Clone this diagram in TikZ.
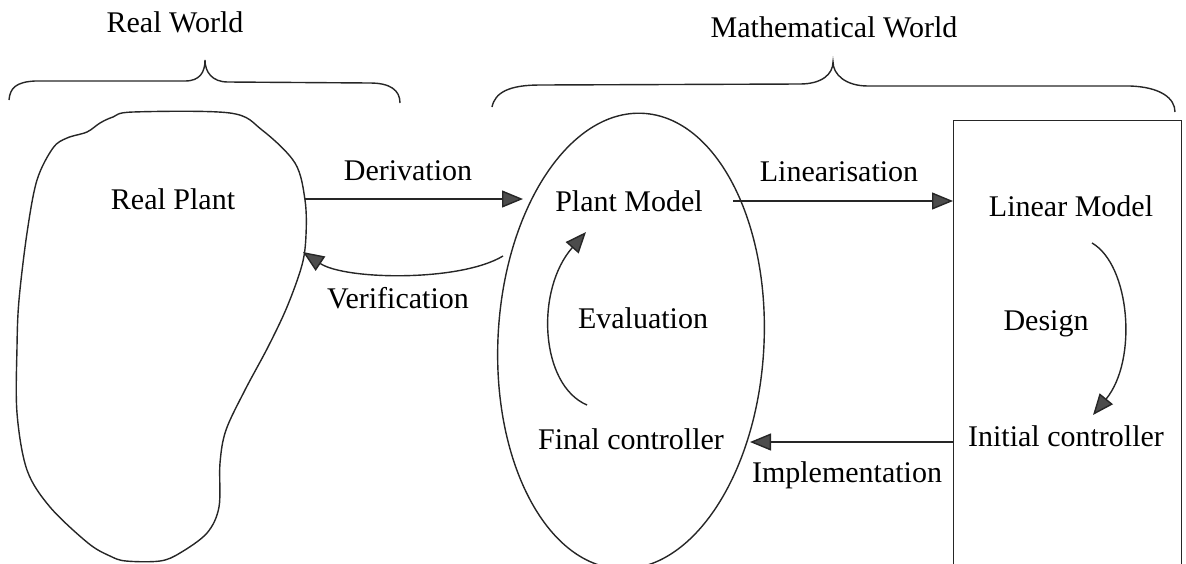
\documentclass[tikz,border=0pt]{standalone}
\usepackage{fontspec}
\setmainfont{Liberation Serif}
\usetikzlibrary{arrows.meta,shapes.geometric}

\tikzset{
	lbl/.style={inner sep=0pt, font=\fontsize{15}{18}\selectfont},
	outline/.style={line width=0.7pt, draw=black!85},
	flow/.style={outline, -{Triangle[length=10.5pt,width=8.5pt,fill=black!70]}},
}

\begin{document}
\begin{tikzpicture}[x=0.5pt,y=-0.5pt]
	\useasboundingbox (0,0) rectangle (1186,563);
	\clip (0,0) rectangle (1186,563);

	% the two worlds
	\node[lbl] (realworld) at (175,22)  {Real World};
	\node[lbl] (mathworld) at (834,27)  {Mathematical World};

	\draw[outline] (9,100) .. controls (10,88) and (16,82) .. (35,81) -- (185,81)
		.. controls (200,81) and (205,72) .. (205,60)
		.. controls (205,72) and (212,82) .. (228,82) -- (370,83)
		.. controls (390,83) and (400,90) .. (400,103);
	\draw[outline] (492,107) .. controls (495,92) and (510,85) .. (540,85) -- (800,84)
		.. controls (822,84) and (833,74) .. (833,62)
		.. controls (833,74) and (845,86) .. (868,86) -- (1130,86)
		.. controls (1160,87) and (1175,98) .. (1175,112);

	% shapes
	\draw[outline] plot[smooth cycle, tension=0.55] coordinates {
		(133,112) (230,113) (262,130) (295,163) (305,200) (306,235) (302,265)
		(287,307) (268,347) (245,390) (226,430) (220,463) (219,507) (207,533)
		(180,553) (160,561) (126,561) (110,556) (88,543) (50,507) (27,470)
		(17,413) (17,347) (19,300) (27,233) (37,180) (53,148) (67,138)
		(87,132) (100,123) (113,117)};
	\node[draw, outline, ellipse, inner sep=0pt, minimum width=133pt,
		minimum height=228pt, rotate=-3] (mathshape) at (631,341) {};
	\node[draw, outline, inner sep=0pt, minimum width=114pt,
		minimum height=240pt, anchor=north west] (designbox) at (953,120) {};

	% blocks
	\node[lbl] (realplant)   at (173,199)  {Real Plant};
	\node[lbl] (plantmodel)  at (629,201)  {Plant Model};
	\node[lbl] (evaluation)  at (643,318)  {Evaluation};
	\node[lbl] (finalctrl)   at (631,439)  {Final controller};
	\node[lbl] (linearmodel) at (1071,206) {Linear Model};
	\node[lbl] (design)      at (1046,324) {Design};
	\node[lbl] (initialctrl) at (1066,436) {Initial controller};

	% arrow ends on the outlines
	\coordinate (der-a) at (305,199);
	\coordinate (der-b) at (523,199);
	\coordinate (ver-a) at (503,256);
	\coordinate (ver-b) at (303,252);
	\coordinate (lin-a) at (733,201);
	\coordinate (lin-b) at (953,201);
	\coordinate (imp-a) at (953,442);
	\coordinate (imp-b) at (750,442);
	\coordinate (eva-a) at (587,405);
	\coordinate (eva-b) at (586,232);
	\coordinate (des-a) at (1092,243);
	\coordinate (des-b) at (1093,415);

	\draw[flow] (der-a) -- (der-b);
	\draw[flow] (ver-a) .. controls (460,282) and (345,280) .. (ver-b);
	\draw[flow] (lin-a) -- (lin-b);
	\draw[flow] (imp-a) -- (imp-b);
	\draw[flow] (eva-a) .. controls (540,385) and (535,290) .. (eva-b);
	\draw[flow] (des-a) .. controls (1130,265) and (1138,360) .. (des-b);

	\node[lbl] (derlbl) at (408,171) {Derivation};
	\node[lbl] (verlbl) at (398,298) {Verification};
	\node[lbl] (linlbl) at (839,172) {Linearisation};
	\node[lbl] (implbl) at (847,475) {Implementation};

\end{tikzpicture}
\end{document}
